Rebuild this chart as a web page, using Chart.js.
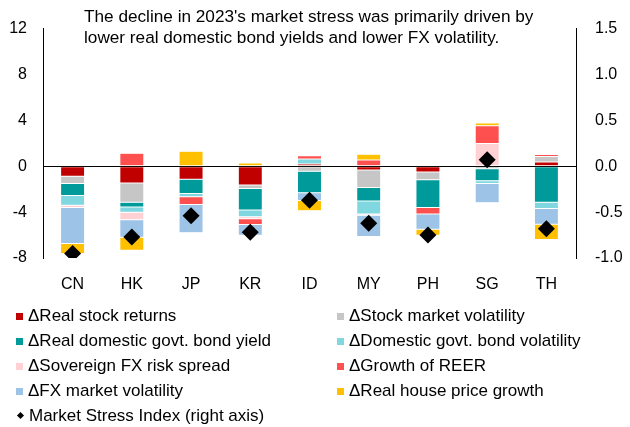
<!DOCTYPE html>
<html>
<head>
<meta charset="utf-8">
<script src="https://cdn.jsdelivr.net/npm/chart.js@4"></script>
<style>
  body { margin: 0; background: #fff; font-family: "Liberation Sans", Arial, sans-serif; }
  #wrap { position: relative; width: 630px; height: 427px; }
  #chartBox { position: absolute; left: 0; top: 0; width: 630px; height: 305px; }
  #note { position: absolute; left: 84px; top: 6px; font-size: 17.2px; line-height: 21px; color: #000; white-space: nowrap; }
  #legend { position: absolute; left: 0; top: 303px; width: 630px; font-size: 17px; color: #000; }
  .item { position: absolute; height: 25px; line-height: 25px; white-space: nowrap; }
  .sw { display: inline-block; width: 7px; height: 7px; margin-right: 5px; vertical-align: 1px; }
  .dia { display: inline-block; width: 5px; height: 5px; background: #000; transform: rotate(45deg); margin: 0 6px 0 2px; vertical-align: 3px; }
</style>
</head>
<body>
<div id="wrap">
  <div id="chartBox"><canvas id="myChart"></canvas></div>
  <div id="note">The decline in 2023's market stress was primarily driven by<br>lower real domestic bond yields and lower FX volatility.</div>
  <div id="legend"></div>
</div>
<script>
const categories = ["CN", "HK", "JP", "KR", "ID", "MY", "PH", "SG", "TH"];

const realStockReturns   = [-0.88, -1.47, -1.13, -1.64,  0.20, -0.32, -0.51,  0.00,  0.37];
const stockMarketVol     = [-0.62, -1.67,  0.00, -0.31, -0.43, -1.54, -0.66, -0.22,  0.48];
const realBondYield      = [-1.05, -0.42, -1.24, -1.86, -1.88, -1.17, -2.42, -1.05, -3.14];
const bondVol            = [-0.85, -0.45, -0.28, -0.59,  0.43, -1.14,  0.00, -0.23, -0.54];
const sovereignFxSpread  = [-0.20, -0.65,  0.00, -0.17,  0.00, -0.10,  0.00,  1.98,  0.00];
const reerGrowth         = [ 0.00,  1.13, -0.68, -0.51,  0.28,  0.54, -0.57,  1.55,  0.17];
const fxMarketVol        = [-3.13, -1.53, -2.46, -0.93, -0.68, -1.85, -1.34, -1.69, -1.38];
const realHousePrice     = [-0.87, -1.13,  1.30,  0.28, -0.88,  0.51, -0.51,  0.25, -1.33];

const marketStressIndex  = [-0.95, -0.77, -0.54, -0.72, -0.37, -0.62, -0.75,  0.07, -0.68];

const leftTicks = [-8, -4, 0, 4, 8, 12];
const rightTicks = [-1.0, -0.5, 0.0, 0.5, 1.0, 1.5];

const barSeries = [
  { label: "\u0394Real stock returns", data: realStockReturns, color: "#C00000" },
  { label: "\u0394Stock market volatility", data: stockMarketVol, color: "#C6C6C6" },
  { label: "\u0394Real domestic govt. bond yield", data: realBondYield, color: "#009A9A" },
  { label: "\u0394Domestic govt. bond volatility", data: bondVol, color: "#80D7E0" },
  { label: "\u0394Sovereign FX risk spread", data: sovereignFxSpread, color: "#FFD1D4" },
  { label: "\u0394Growth of REER", data: reerGrowth, color: "#FF5050" },
  { label: "\u0394FX market volatility", data: fxMarketVol, color: "#9DC3E6" },
  { label: "\u0394Real house price growth", data: realHousePrice, color: "#FFC000" },
];

const font = { family: "'Liberation Sans', Arial, sans-serif", size: 16 };

const datasets = barSeries.map((s) => ({
  type: "bar",
  label: s.label,
  data: s.data,
  backgroundColor: s.color,
  borderColor: "rgba(255,255,255,0.6)",
  borderWidth: 0.5,
  borderSkipped: false,
  yAxisID: "y",
  barPercentage: 0.405,
  categoryPercentage: 1,
  order: 1,
}));

datasets.push({
  type: "line",
  label: "Market Stress Index (right axis)",
  data: marketStressIndex,
  yAxisID: "y2",
  showLine: false,
  pointStyle: "rectRot",
  pointRadius: 8.5,
  pointBackgroundColor: "#000",
  pointBorderColor: "#000",
  pointBorderWidth: 0,
  order: 0,
});

const ctx = document.getElementById("myChart").getContext("2d");
const myChart = new Chart(ctx, {
  data: { labels: categories, datasets: datasets },
  options: {
    responsive: true,
    maintainAspectRatio: false,
    animation: false,
    layout: { padding: { top: 24, bottom: 0, left: 0, right: 0 } },
    scales: {
      x: {
        stacked: true,
        grid: { display: false, drawTicks: false },
        border: { display: false },
        ticks: { font: font, color: "#000", padding: 17 },
        afterFit: (scale) => { scale.height = 47; },
      },
      y: {
        stacked: true,
        position: "left",
        min: -8,
        max: 12,
        afterBuildTicks: (scale) => { scale.ticks = leftTicks.map((v) => ({ value: v })); },
        grid: {
          drawTicks: false,
          color: (c) => (c.tick && c.tick.value === 0 ? "#000" : "rgba(0,0,0,0)"),
          lineWidth: 1,
        },
        border: { display: true, color: "#000", width: 1 },
        ticks: { font: font, color: "#000", padding: 16 },
        afterFit: (scale) => { scale.width = 43; },
      },
      y2: {
        position: "right",
        min: -1,
        max: 1.5,
        afterBuildTicks: (scale) => { scale.ticks = rightTicks.map((v) => ({ value: v })); },
        grid: { display: false, drawTicks: false },
        border: { display: true, color: "#000", width: 1 },
        ticks: { font: font, color: "#000", padding: 19, callback: (v) => Number(v).toFixed(1) },
        afterFit: (scale) => { scale.width = 54; },
      },
    },
    plugins: {
      legend: { display: false },
      tooltip: { enabled: false },
    },
  },
});

// legend in two columns, like the original
const legendEl = document.getElementById("legend");
const rowY = [0, 25, 50, 75, 100];
barSeries.forEach((s, i) => {
  const div = document.createElement("div");
  div.className = "item";
  div.style.left = (i % 2 === 0 ? 16 : 337) + "px";
  div.style.top = rowY[Math.floor(i / 2)] + "px";
  div.innerHTML = '<span class="sw" style="background:' + s.color + '"></span>' + s.label;
  legendEl.appendChild(div);
});
const msi = document.createElement("div");
msi.className = "item";
msi.style.left = "16px";
msi.style.top = rowY[4] + "px";
msi.innerHTML = '<span class="dia"></span>Market Stress Index (right axis)';
legendEl.appendChild(msi);
</script>
</body>
</html>
